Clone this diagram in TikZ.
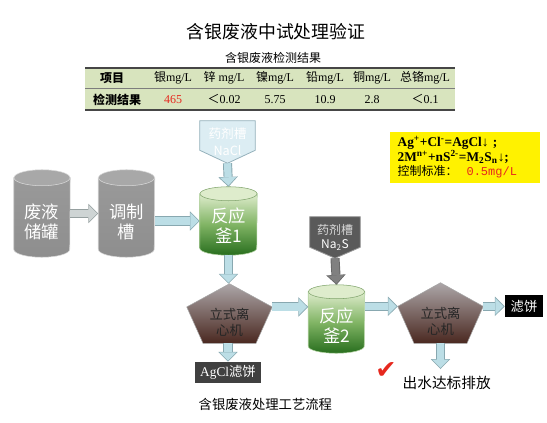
\documentclass[tikz,border=0pt]{standalone}
\usepackage{fontspec}
\usepackage{xcolor}
\usetikzlibrary{calc,arrows.meta}
\setmainfont{Liberation Serif}
\newfontfamily\cjk{Noto Sans CJK SC}
\newfontfamily\tmono{Liberation Mono}
\newfontfamily\dejavu{DejaVu Sans}

\definecolor{tblgreen}{RGB}{216,228,190}
\definecolor{tblline}{RGB}{70,70,70}
\definecolor{arrfill}{RGB}{188,222,230}
\definecolor{arrline}{RGB}{136,168,176}
\definecolor{arrgray}{RGB}{206,212,212}
\definecolor{arrgrayline}{RGB}{150,160,160}
\definecolor{tankgray}{RGB}{142,142,142}
\definecolor{capgray}{RGB}{168,168,168}
\definecolor{greentop}{RGB}{222,236,204}
\definecolor{greenmid}{RGB}{128,180,100}
\definecolor{greenbot}{RGB}{40,110,30}
\definecolor{pentop}{RGB}{172,166,168}
\definecolor{penbot}{RGB}{74,40,32}
\definecolor{naclfill}{RGB}{220,237,243}
\definecolor{naclline}{RGB}{150,178,188}
\definecolor{nasfill}{RGB}{90,90,90}
\definecolor{redtxt}{RGB}{230,40,30}

\pgfdeclarelayer{background}
\pgfsetlayers{background,main}

% cylinder body drawn from the anchors of a plain box node
\newcommand\tankshape[5]{%
  \path[#4] ($(#1.north west)+(0,#3)$) -- ($(#1.south west)+(0,-#3)$)
    arc[start angle=180,end angle=0,x radius=#2,y radius=#3]
    -- ($(#1.north east)+(0,#3)$) -- cycle;
  \path[#5] ($(#1.north)+(0,#3)$) ellipse[x radius=#2,y radius=#3];
}
\newcommand\pentshape[1]{%
  \coordinate (#1-r) at ($(#1.north east)!0.39!(#1.south east)$);
  \coordinate (#1-l) at ($(#1.north west)!0.39!(#1.south west)$);
  \path[pent] (#1.north) -- (#1-r) -- ($(#1.south west)!0.81!(#1.south east)$)
    -- ($(#1.south west)!0.19!(#1.south east)$) -- (#1-l) -- cycle;
}
\newcommand\calloutshape[3]{%
  \path[#3] (#1.north west) -- ($(#1.south west)+(0,-#2)$) -- (#1.south)
    -- ($(#1.south east)+(0,-#2)$) -- (#1.north east) -- cycle;
}

\begin{document}
\begin{tikzpicture}[x=0.75pt,y=0.75pt,yscale=-1,xscale=1,
  cell/.style={font=\fontsize{9}{11}\selectfont,inner sep=0.75pt},
  box/.style={inner sep=0pt},
  tanktxt/.style={text=white,font=\cjk\fontsize{13}{15}\selectfont,align=center,inner sep=0pt},
  pentxt/.style={text=black!85,font=\cjk\fontsize{10}{12.5}\selectfont,align=center,inner sep=0pt},
  graybody/.style={top color=tankgray!90,bottom color=tankgray,draw=white!85!black,line width=0.4pt},
  graycap/.style={fill=capgray,draw=white!85!black,line width=0.4pt},
  greenbody/.style={top color=greentop,bottom color=greenbot,middle color=greenmid,draw=greenmid!60,line width=0.4pt},
  greencap/.style={fill=greentop,draw=greenmid!70!gray,line width=0.4pt},
  pent/.style={top color=pentop,bottom color=penbot,draw=gray!70,line width=0.4pt},
  fatarr/.style 2 args={draw=#1,line width=5.4pt,shorten >=0.9pt,
    -{Triangle[length=6.2pt,width=12.4pt,line width=0pt]},
    preaction={draw=#2,line width=6.8pt,shorten >=0pt,
      -{Triangle[length=7.4pt,width=14.6pt,line width=0pt]}}},
  flow/.style={fatarr={arrfill}{arrline}},
  flowgray/.style={fatarr={arrgray}{arrgrayline}},
  flowdark/.style={fatarr={gray}{black!60}}]

\useasboundingbox (0,0) rectangle (547,422);

\node[font=\cjk\fontsize{13.4}{16}\selectfont] (title) at (276,32) {含银废液中试处理验证};
\node[font=\cjk\fontsize{9}{11}\selectfont] (subtitle) at (273,58) {含银废液检测结果};

\fill[tblgreen] (85,68) rectangle (455,110);
\draw[tblline,line width=1.1pt] (85,68) -- (455,68) (85,110) -- (455,110);
\draw[tblline!70,line width=0.6pt] (85,88) -- (455,88);
\foreach \n/\hx/\vx/\h/\v in {1/112/117/{\cjk\bfseries 项目}/{\cjk\bfseries 检测结果},
    2/173/173/{{\cjk 银}mg/L}/{\color{redtxt}465},
    3/224/224/{{\cjk 锌} mg/L}/{{\cjk ＜}0.02},
    4/275/275/{{\cjk 镍}mg/L}/{5.75},
    5/325/325/{{\cjk 铅}mg/L}/{10.9},
    6/372/372/{{\cjk 铜}mg/L}/{2.8},
    7/425/425/{{\cjk 总铬}mg/L}/{{\cjk ＜}0.1}}{
  \node[cell] (h\n) at (\hx,78) {\h};
  \node[cell] (v\n) at (\vx,99.5) {\v};
}

\node[fill=yellow,minimum width=112.5pt,minimum height=38.25pt,text width=101pt,align=left,
  inner sep=0pt,font=\fontsize{10}{11}\selectfont] (eqbox) at (465,157.5)
  {{\bfseries Ag\textsuperscript{+}+Cl\textsuperscript{-}=AgCl↓ ;}\\
   {\bfseries 2M\textsuperscript{n+}+nS\textsuperscript{2-}=M\textsubscript{2}S\textsubscript{n}↓;}\\
   {\cjk\fontsize{9}{11}\selectfont 控制标准：}\ \ {\color{redtxt}\tmono\fontsize{9}{11}\selectfont 0.5mg/L}};

\node[box,minimum width=42pt,minimum height=65.25pt] (tk1) at (42,213.5) {};
\node[box,minimum width=42pt,minimum height=65.25pt] (tk2) at (126.5,213.5) {};
\node[box,minimum width=42.75pt,minimum height=51pt] (tk3) at (228.5,221) {};
\node[box,minimum width=42pt,minimum height=51pt] (tk4) at (336.5,319) {};
\node[box,minimum width=63.75pt,minimum height=44.25pt] (pn1) at (229.5,313.5) {};
\node[box,minimum width=63.75pt,minimum height=45pt] (pn2) at (440.5,313) {};

\node[tanktxt] (tk1t) at (42,222) {废液\\储罐};
\node[tanktxt] (tk2t) at (126.5,222) {调制\\槽};
\node[tanktxt] (tk3t) at (228.5,226) {反应\\釜1};
\node[tanktxt] (tk4t) at (336.5,326) {反应\\釜2};
\node[pentxt] (pn1t) at (229.5,322.5) {立式离\\心机};
\node[pentxt] (pn2t) at (440.5,321.5) {立式离\\心机};

\node[box,minimum width=41.25pt,minimum height=31.5pt,text=white,align=center,
  font=\cjk\fontsize{9.5}{12.5}\selectfont] (co1) at (227.5,142) {药剂槽\\NaCl};
\node[box,minimum width=37.5pt,minimum height=30.75pt,text=white,align=center,
  font=\cjk\fontsize{9}{10.5}\selectfont] (co2) at (335,237.5) {{\color{white!85!black}药剂槽}\\Na\textsubscript{2}S};

\node[box,fill=black!75,minimum width=49.5pt,minimum height=15.75pt,text=white,
  font=\fontsize{10}{12}\selectfont] (agcl) at (228,372.5) {AgCl{\cjk 滤饼}};
\node[box,fill=black,minimum width=28.5pt,minimum height=16.5pt,text=white,
  font=\cjk\fontsize{10}{12}\selectfont] (cake) at (524,306) {滤饼};

\node[text=redtxt,font=\dejavu\fontsize{19}{19}\selectfont] (tick) at (386,371) {✔};
\node[anchor=west,font=\cjk\fontsize{11}{13}\selectfont] (outtxt) at (398,383) {出水达标排放};
\node[anchor=west,font=\cjk\fontsize{10}{12}\selectfont] (caption) at (194,404) {含银废液处理工艺流程};
\coordinate (out) at (440.5,369);

\begin{pgfonlayer}{background}
\tankshape{tk1}{28}{8}{graybody}{graycap}
\tankshape{tk2}{28}{8}{graybody}{graycap}
\tankshape{tk3}{28.5}{7}{greenbody}{greencap}
\tankshape{tk4}{28}{7}{greenbody}{greencap}
\pentshape{pn1}
\pentshape{pn2}
\calloutshape{co1}{13}{fill=naclfill,draw=naclline,line width=0.6pt}
\calloutshape{co2}{11}{fill=nasfill,draw=gray!80,line width=0.6pt}
\end{pgfonlayer}

\draw[flowgray] (tk1.east) -- (tk2.west);
\draw[flow] (tk2.east |- tk3.west) -- (tk3.west);
\draw[flow] (co1.south) -- (tk3.north);
\draw[flow] (tk3.south) -- (tk3.south |- pn1.north);
\draw[flow] (pn1-r) -- (pn1-r -| tk4.west);
\draw[flowdark] (co2.south) -- (tk4.north);
\draw[flow] (tk4.east |- pn2-l) -- (pn2-l);
\draw[flow] (pn2-r) -- (pn2-r -| cake.west);
\draw[flow] (agcl.north |- pn1.south) -- (agcl.north);
\draw[flow] (pn2.south) -- (out);
\end{tikzpicture}
\end{document}
